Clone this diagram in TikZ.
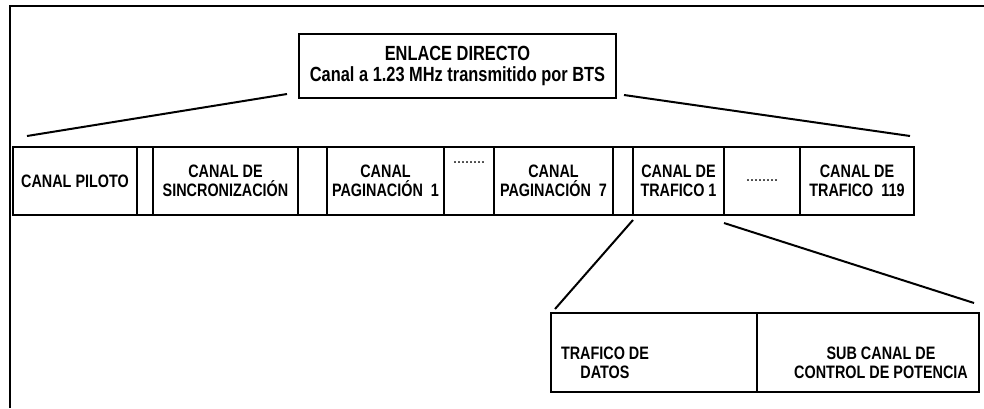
\documentclass[tikz,border=0pt]{standalone}
\usepackage{fontspec}
\setmainfont{Liberation Sans}[FakeStretch=0.8]
\usetikzlibrary{positioning}

\begin{document}
\begin{tikzpicture}[x=1pt,y=-1pt,node distance=0pt,line width=2pt,
  font=\fontsize{18}{19}\selectfont\bfseries]
  \tikzstyle{cell}=[rectangle,draw,outer sep=0pt,inner sep=1pt,
                    minimum height=68pt,align=center]
  \tikzstyle{frame}=[rectangle,draw,outer sep=0pt,align=center,
                     font=\fontsize{20.5}{21.5}\selectfont\bfseries]
  \tikzstyle{dots}=[font=\fontsize{18}{19}\selectfont\mdseries]

  \useasboundingbox (0,0) rectangle (984,408);
  \draw[line width=2.5pt] (10,408) -- (10,6) -- (984,6);

  \node[frame,minimum width=317pt,minimum height=64pt] (enlace) at (457.5,66)
    {ENLACE DIRECTO\\Canal a 1.23 MHz transmitido por BTS};

  % fila de canales
  \node[cell,minimum width=124pt] (piloto) at (75,181) {CANAL PILOTO};
  \node[cell,minimum width=16pt] (g1) [right=of piloto] {};
  \node[cell,minimum width=145pt] (sincro) [right=of g1] {CANAL DE\\SINCRONIZACIÓN};
  \node[cell,minimum width=29pt] (g2) [right=of sincro] {};
  \node[cell,minimum width=117pt] (pag1) [right=of g2] {CANAL\\PAGINACIÓN\ \ 1};
  \node[cell,minimum width=50pt,label={[dots,yshift=18pt]center:........}] (dots1) [right=of pag1] {};
  \node[cell,minimum width=119pt] (pag7) [right=of dots1] {CANAL\\PAGINACIÓN\ \ 7};
  \node[cell,minimum width=20pt] (g3) [right=of pag7] {};
  \node[cell,minimum width=91pt] (traf1) [right=of g3] {CANAL DE\\TRAFICO 1};
  \node[cell,minimum width=76pt,dots] (dots2) [right=of traf1] {........};
  \node[cell,minimum width=114pt] (traf119) [right=of dots2] {CANAL DE\\TRAFICO\ \ 119};

  % subcanales
  \node[cell,minimum width=206pt,minimum height=79pt,
        label={[xshift=-49pt,yshift=-10pt,align=center]center:TRAFICO DE\\DATOS}]
        (datos) at (654,352.5) {};
  \node[cell,minimum width=222pt,minimum height=79pt,
        label={[xshift=13pt,yshift=-10pt,align=center]center:SUB CANAL DE\\CONTROL DE POTENCIA}]
        (potencia) [right=of datos] {};

  \path ([shift={(-12,-4)}]enlace.south west) edge ([shift={(14,-11)}]piloto.north west);
  \path ([shift={(8,-3)}]enlace.south east) edge ([shift={(-4,-11)}]traf119.north east);
  \path ([shift={(0,5)}]traf1.south west) edge ([shift={(4,-4)}]datos.north west);
  \path ([shift={(0,8)}]traf1.south east) edge ([shift={(-5,-10)}]potencia.north east);
\end{tikzpicture}
\end{document}
